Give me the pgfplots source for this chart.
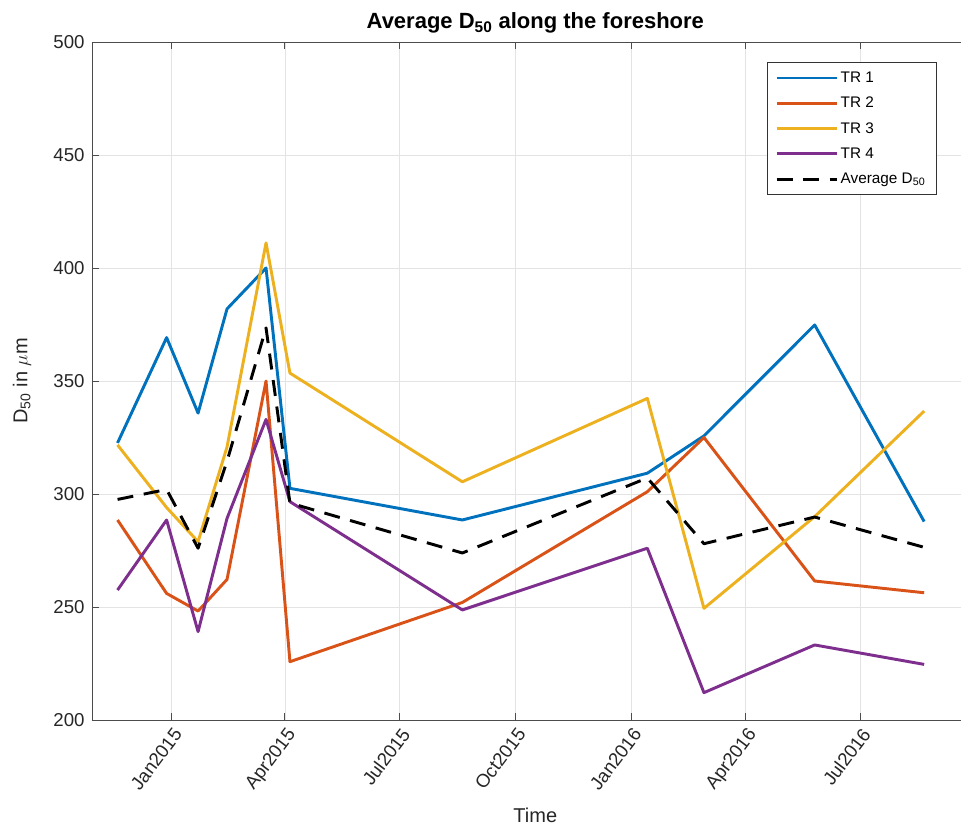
\documentclass[border=0pt]{standalone}
\usepackage{fontspec}
\setmainfont{Liberation Sans}
\usepackage{pgfplots}
\pgfplotsset{compat=1.18}

\definecolor{mblue}{rgb}{0,0.447,0.741}
\definecolor{mred}{rgb}{0.85,0.325,0.098}
\definecolor{myellow}{rgb}{0.929,0.694,0.125}
\definecolor{mpurple}{rgb}{0.494,0.184,0.556}

% x = days since 1 Jan 2015
\pgfplotstableread{
day   tra   trb   trc   trd   avg
-43  322.6 288.5 321.7 257.5 297.6
-4   369.2 256.0 294.0 288.5 302.0
21   335.8 248.2 278.9 239.1 276.0
44   381.9 262.2 320.8 289.2 314.5
75   400.0 350.0 411.1 333.0 373.5
94   302.5 225.8 353.5 296.6 296.0
231  288.5 252.0 305.4 248.7 273.9
378  309.2 301.0 342.3 276.0 307.1
423  325.7 325.0 249.4 212.1 278.0
511  374.8 261.5 290.0 233.2 289.8
598  287.8 256.3 336.7 224.6 276.4
}\dtab

\begin{document}
\begin{tikzpicture}
\begin{axis}[
  scale only axis,
  width=690pt, height=508.5pt,
  xmin=-63.3, xmax=667.8,
  ymin=200, ymax=500,
  axis x line*=box, axis y line*=left,
  xtick={0,90,181,273,365,456,547},
  xticklabels={Jan2015,Apr2015,Jul2015,Oct2015,Jan2016,Apr2016,Jul2016},
  ytick={200,250,...,500},
  grid=major,
  major grid style={black!11, line width=0.6pt},
  tick align=inside,
  major tick length=5pt,
  axis line style={-, draw=black!70, line width=0.7pt},
  tick style={black!70, line width=0.7pt},
  ticklabel style={font=\fontsize{14}{16}\selectfont, text=black!85},
  /pgf/number format/assume math mode=true,
  xticklabel style={rotate=53, anchor=north east},
  yticklabel style={xshift=-2pt},
  title={Average D\textsubscript{50} along the foreshore},
  title style={font=\fontsize{16.5}{19}\selectfont\bfseries, xshift=-12.5pt, yshift=-3pt},
  xlabel={Time},
  ylabel={D\textsubscript{50} in $\mu$m},
  label style={font=\fontsize{15}{18}\selectfont, text=black!85},
  xlabel style={yshift=-3pt, xshift=-12.5pt},
  ylabel style={yshift=10pt},
  legend cell align=left,
  legend style={at={(rel axis cs:0,1)}, anchor=north west,
    xshift=506pt, yshift=-15pt,
    font=\fontsize{11.5}{14}\selectfont,
    draw=black!80, line width=0.6pt, fill=white,
    row sep=5.5pt, inner xsep=6pt, inner ysep=5pt},
  legend image code/.code={\draw[#1] (0pt,0pt) -- (45pt,0pt);},
  every axis plot/.append style={line width=2.2pt, line join=round},
]
\addplot[mblue] table[x=day, y=tra] {\dtab};
\addlegendentry{TR 1}
\addplot[mred] table[x=day, y=trb] {\dtab};
\addlegendentry{TR 2}
\addplot[myellow] table[x=day, y=trc] {\dtab};
\addlegendentry{TR 3}
\addplot[mpurple] table[x=day, y=trd] {\dtab};
\addlegendentry{TR 4}
\addplot[black, dash pattern=on 12pt off 8pt] table[x=day, y=avg] {\dtab};
\addlegendentry{Average D\textsubscript{50}\hspace{12pt}}
\end{axis}
\pgfresetboundingbox
\useasboundingbox (-69pt,-82.5pt) rectangle (651.75pt,540pt);
\end{tikzpicture}
\end{document}
